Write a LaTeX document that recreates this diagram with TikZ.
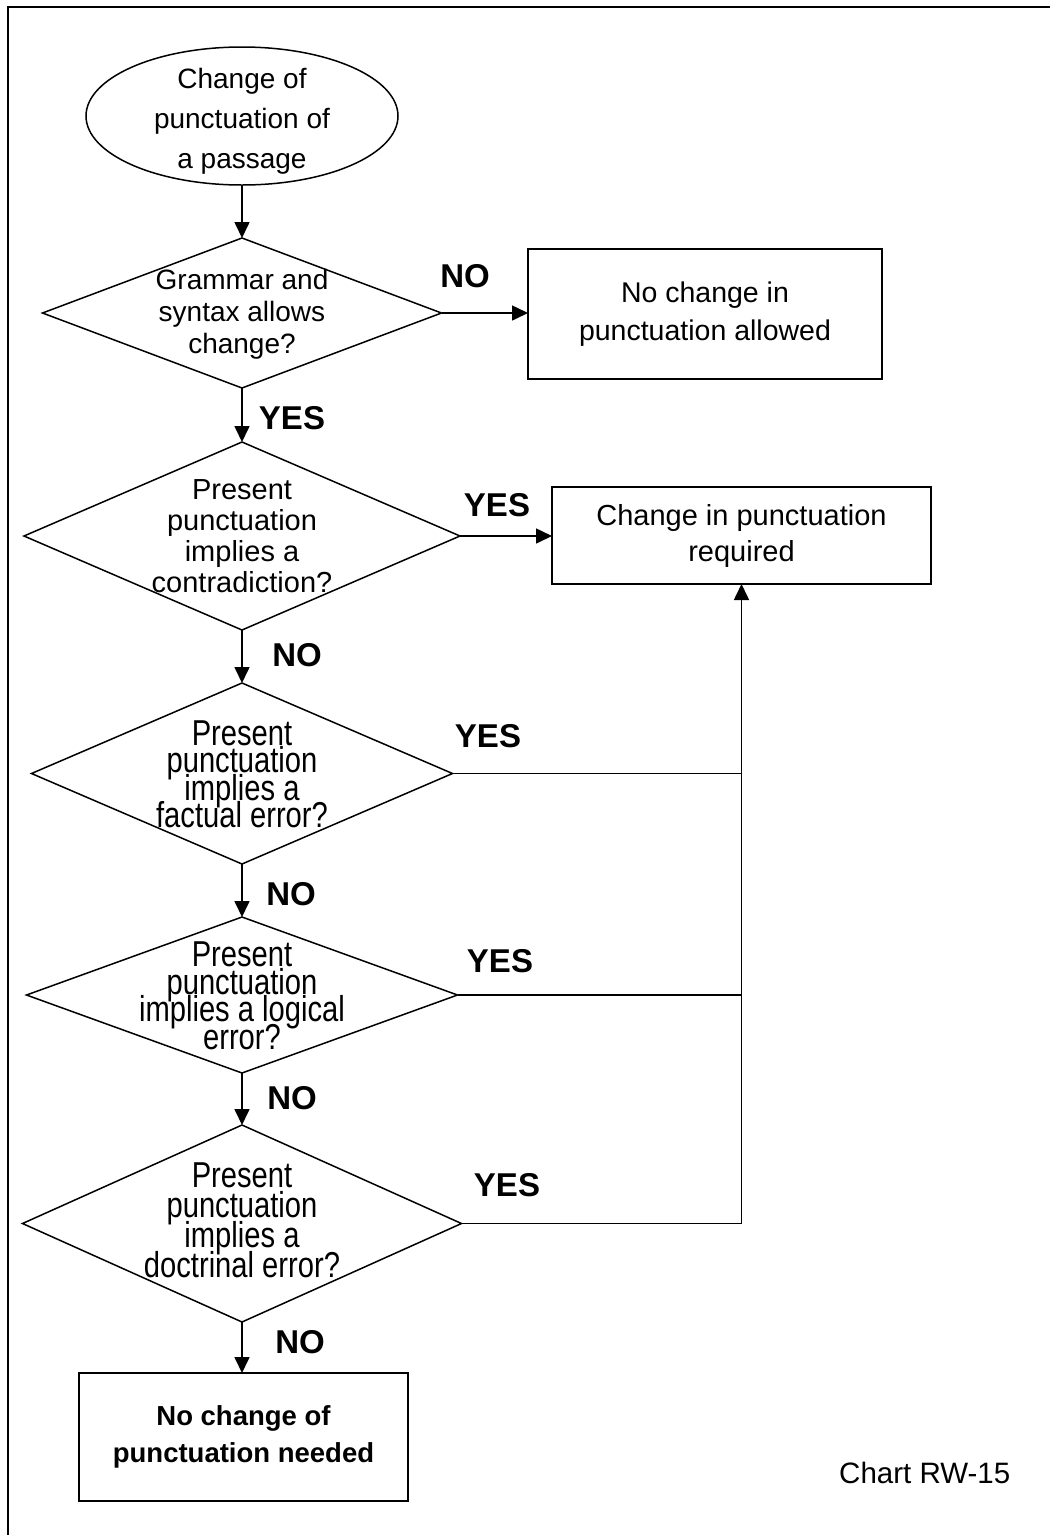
\documentclass[tikz,border=0pt]{standalone}
\usepackage{fontspec}
\setmainfont{Liberation Sans}
\newfontfamily\condfont{Liberation Sans}[FakeStretch=0.81]
\usetikzlibrary{shapes.geometric,arrows.meta}
\newcommand{\tightlines}{\lineskiplimit=-100pt\lineskip=0pt}
\begin{document}
\begin{tikzpicture}[x=1pt,y=-1pt,
  shp/.style={draw,line width=1.5pt,inner sep=0pt,outer sep=0pt},
  dec/.style={shp,diamond},
  boxn/.style={draw,line width=2pt,inner sep=0pt,outer sep=0pt,rectangle,align=center},
  txt/.style={inner sep=0pt,align=center},
  lbl/.style={inner sep=0pt,font=\bfseries\fontsize{33}{36}\selectfont},
  conn/.style={line width=1.6pt},
  arr/.style={conn,-{Triangle[length=16pt,width=15pt]}}]
\useasboundingbox (0,0) rectangle (1050,1535);
% frame
\draw[line width=2pt] (7.5,1535) -- (7.5,6.5) -- (1050,6.5);

% start
\node[shp,ellipse,minimum width=312pt,minimum height=138pt] (start) at (242,116) {};
\node[txt,font=\fontsize{28}{40}\selectfont\tightlines] (startT) at (242,121) {Change of\\punctuation of\\a passage};

% decision 1
\node[dec,minimum width=399pt,minimum height=150pt] (d1) at (242,313) {};
\node[txt,font=\fontsize{28}{32}\selectfont\tightlines] (d1t) at (242,314) {Grammar and\\syntax allows\\change?};
\node[boxn,minimum width=354pt,minimum height=130pt,font=\fontsize{28.5}{38}\selectfont\tightlines] (b1) at (705,314) {No change in\\punctuation allowed};

% decision 2
\node[dec,minimum width=436pt,minimum height=188pt] (d2) at (242,536) {};
\node[txt,font=\fontsize{29}{31}\selectfont\tightlines] (d2t) at (242,536) {Present\\punctuation\\implies a\\contradiction?};
\node[boxn,minimum width=379pt,minimum height=97pt,font=\fontsize{29}{36}\selectfont\tightlines] (b2) at (741.5,535.5) {Change in punctuation\\required};

% decision 3
\node[dec,minimum width=421pt,minimum height=181pt] (d3) at (242,773.5) {};
\node[txt,font=\condfont\fontsize{36}{27.5}\selectfont\tightlines] (d3t) at (242,774.5) {Present\\punctuation\\implies a\\factual error?};

% decision 4
\node[dec,minimum width=431pt,minimum height=156pt] (d4) at (242,995) {};
\node[txt,font=\condfont\fontsize{36}{27.5}\selectfont\tightlines] (d4t) at (242,996) {Present\\punctuation\\implies a logical\\error?};

% decision 5
\node[dec,minimum width=439pt,minimum height=197pt] (d5) at (242,1223.5) {};
\node[txt,font=\condfont\fontsize{36}{30}\selectfont\tightlines] (d5t) at (242,1220) {Present\\punctuation\\implies a\\doctrinal error?};

% end box
\node[boxn,minimum width=329pt,minimum height=128pt,font=\bfseries\fontsize{27.5}{37}\selectfont\tightlines] (bot) at (243.5,1437) {No change of\\punctuation needed};

\node[inner sep=0pt,anchor=base west,font=\fontsize{29.5}{30}\selectfont] (chart) at (839,1483) {Chart RW-15};

% labels
\node[lbl] (no1) at (465,276) {NO};
\node[lbl] (yes1) at (292,418) {YES};
\node[lbl] (yes2) at (497,505) {YES};
\node[lbl] (no2) at (297,655) {NO};
\node[lbl] (yes3) at (488,736) {YES};
\node[lbl] (no3) at (291,894) {NO};
\node[lbl] (yes4) at (500,961) {YES};
\node[lbl] (no4) at (292,1098) {NO};
\node[lbl] (yes5) at (507,1185) {YES};
\node[lbl] (no5) at (300,1342) {NO};

% connectors
\draw[arr] (start.south) -- (d1.north);
\draw[arr] (d1.east) -- (d1.east -| b1.west);
\draw[arr] (d1.south) -- (d2.north);
\draw[arr] (d2.east) -- (d2.east -| b2.west);
\draw[arr] (d2.south) -- (d3.north);
\draw[arr] (d3.south) -- (d4.north);
\draw[arr] (d4.south) -- (d5.north);
\draw[arr] (d5.south) -- (d5.south |- bot.north);
\draw[conn] (d3.east) -- (d3.east -| b2.south);
\draw[conn] (d4.east) -- (d4.east -| b2.south);
\draw[arr] (d5.east) -- (d5.east -| b2.south) -- (b2.south);
\end{tikzpicture}
\end{document}
